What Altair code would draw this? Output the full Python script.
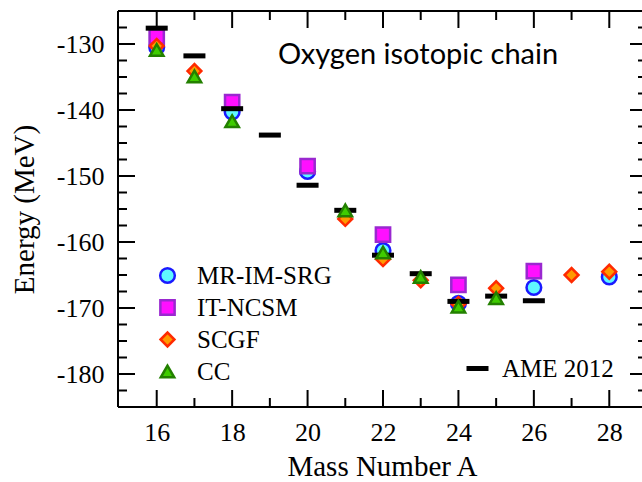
import altair as alt
import pandas as pd

# ---- data ----
methods = ["MR-IM-SRG", "IT-NCSM", "SCGF", "CC"]

mr_A = [16, 18, 20, 22, 24, 26, 28]
mr_E = [-130.5, -140.3, -149.3, -161.3, -169.3, -166.9, -165.3]

nc_A = [16, 18, 20, 22, 24, 26]
nc_E = [-128.9, -138.8, -148.5, -158.9, -166.5, -164.4]

sc_A = [16, 17, 21, 22, 23, 24, 25, 27, 28]
sc_E = [-130.3, -134.1, -156.5, -162.6, -165.8, -169.4, -167.0, -165.0, -164.5]

cc_A = [16, 17, 18, 21, 22, 23, 24, 25]
cc_E = [-130.9, -134.9, -141.7, -155.2, -161.6, -165.3, -169.8, -168.5]

ame_A = [16, 17, 18, 19, 20, 21, 22, 23, 24, 25, 26]
ame_E = [-127.6, -131.8, -139.8, -143.8, -151.4, -155.2, -162.0, -164.8, -169.0, -168.2, -168.9]

x_major = [16, 18, 20, 22, 24, 26, 28]
x_minor = [17, 19, 21, 23, 25, 27]
y_major = [-180, -170, -160, -150, -140, -130]
y_minor = [-182.5, -177.5, -175, -172.5, -167.5, -165, -162.5, -157.5, -155,
           -152.5, -147.5, -145, -142.5, -137.5, -135, -132.5, -127.5]

# ---- tables ----
pts = pd.concat([
    pd.DataFrame({"A": mr_A, "E": mr_E, "method": methods[0]}),
    pd.DataFrame({"A": nc_A, "E": nc_E, "method": methods[1]}),
    pd.DataFrame({"A": sc_A, "E": sc_E, "method": methods[2]}),
], ignore_index=True)
cc = pd.DataFrame({"A": cc_A, "E": cc_E, "method": methods[3]})
ame = pd.DataFrame({"A": ame_A, "E": ame_E, "exp": "AME 2012"})

W, H = 524, 396
XR = 529  # full frame width (right edge lies just outside the window)
SERIF = "Liberation Serif"

xs = alt.Scale(domain=[15, 29], range=[1, XR], nice=False, zero=False)
ys = alt.Scale(domain=[-185, -125], nice=False, zero=False)

leg = alt.Legend(
    title=None, orient="none", legendX=37, legendY=252,
    labelFont=SERIF, labelFontSize=25, labelColor="black",
    labelOffset=17, rowPadding=6, symbolStrokeWidth=2.5, symbolOpacity=1,
    padding=0,
)
shape_enc = alt.Shape("method:N", scale=alt.Scale(domain=methods, range=["circle", "square", "diamond", "triangle-up"]), legend=leg)
fill_enc = alt.Fill("method:N", scale=alt.Scale(domain=methods, range=["#5ff8ff", "#ff10ff", "#ff9a00", "#3fcc00"]), legend=leg)
stroke_enc = alt.Stroke("method:N", scale=alt.Scale(domain=methods, range=["#1a1aff", "#9a28d0", "#ff2a00", "#238000"]), legend=leg)
size_enc = alt.Size("method:N", scale=alt.Scale(domain=methods, range=[215, 180, 240, 340]), legend=leg)

x_axis = alt.Axis(
    values=x_major, ticks=False, tickSize=0, domain=False, grid=False,
    labelFont=SERIF, labelFontSize=26, labelColor="black", labelPadding=12,
    title="Mass Number A", titleFont=SERIF, titleFontSize=29, titleFontWeight="normal",
    titleColor="black", titleX=264, titleY=68, titleBaseline="alphabetic",
)
y_axis = alt.Axis(
    values=y_major, ticks=False, tickSize=0, domain=False, grid=False,
    labelFont=SERIF, labelFontSize=26, labelColor="black", labelPadding=14,
    labelExpr="datum.value < 0 ? '-' + abs(datum.value) : '' + datum.value",
    title="Energy (MeV)", titleFont=SERIF, titleFontSize=29, titleFontWeight="normal",
    titleColor="black", titleX=-85, titleY=198, titleBaseline="alphabetic",
)

def X(field):
    return alt.X(field, scale=xs, axis=x_axis)

def Y(field):
    return alt.Y(field, scale=ys, axis=y_axis)

points = alt.Chart(pts).mark_point(filled=True, opacity=1, strokeWidth=2.5).encode(
    x=X("A:Q"), y=Y("E:Q"),
    shape=shape_enc, fill=fill_enc, stroke=stroke_enc, size=size_enc,
)

ame_layer = alt.Chart(ame).mark_point(shape="stroke", filled=False, opacity=1, size=484, strokeWidth=5).encode(
    x=X("A:Q"), y=Y("E:Q"),
    color=alt.Color("exp:N", scale=alt.Scale(domain=["AME 2012"], range=["black"]),
                    legend=alt.Legend(title=None, orient="none", legendX=346, legendY=344,
                                      labelFont=SERIF, labelFontSize=25, labelColor="black",
                                      labelOffset=11, symbolType="stroke", symbolSize=484,
                                      symbolStrokeWidth=5, symbolOpacity=1, padding=0)),
)

cc_layer = alt.Chart(cc).mark_point(filled=True, opacity=1, strokeWidth=2.5).encode(
    x=X("A:Q"), y=Y("E:Q"),
    shape=shape_enc, fill=fill_enc, stroke=stroke_enc, size=size_enc,
)

# ---- frame and inward ticks ----
rule_style = dict(color="black", strokeWidth=2)
MAJ, MIN = 17, 9

def xticks(vals, length):
    d = pd.DataFrame({"v": vals})
    top = alt.Chart(d).mark_rule(**rule_style).encode(
        x=X("v:Q"), y=alt.value(0), y2=alt.value(length))
    bot = alt.Chart(d).mark_rule(**rule_style).encode(
        x=X("v:Q"), y=alt.value(H), y2=alt.value(H - length))
    return [top, bot]

def yticks(vals, length):
    d = pd.DataFrame({"v": vals})
    left = alt.Chart(d).mark_rule(**rule_style).encode(
        y=Y("v:Q"), x=alt.value(0), x2=alt.value(length))
    right = alt.Chart(d).mark_rule(**rule_style).encode(
        y=Y("v:Q"), x=alt.value(XR), x2=alt.value(XR - length))
    return [left, right]

frame_df = pd.DataFrame({"k": [0]})
frame = [
    alt.Chart(frame_df).mark_rule(**rule_style).encode(x=alt.value(0), x2=alt.value(XR), y=alt.value(0)),
    alt.Chart(frame_df).mark_rule(**rule_style).encode(x=alt.value(0), x2=alt.value(XR), y=alt.value(H)),
    alt.Chart(frame_df).mark_rule(**rule_style).encode(x=alt.value(0), y=alt.value(0), y2=alt.value(H)),
    alt.Chart(frame_df).mark_rule(**rule_style).encode(x=alt.value(XR), y=alt.value(0), y2=alt.value(H)),
]

layers = [points, ame_layer, cc_layer] + xticks(x_major, MAJ) + xticks(x_minor, MIN) \
    + yticks(y_major, MAJ) + yticks(y_minor, MIN) + frame

chart = alt.layer(*layers).properties(
    width=W, height=H,
    autosize=alt.AutoSizeParams(type="none"),
    padding={"left": 118, "top": 11, "right": 0, "bottom": 75},
    title=alt.TitleParams(
        "Oxygen isotopic chain", font="Lato", fontSize=29, fontWeight="normal",
        color="black", anchor="start", frame="group", offset=0, dx=160, dy=83,
        baseline="alphabetic",
    ),
).configure_view(strokeWidth=0).configure(background="white")

chart.save("out.html", embed_options={"renderer": "svg", "actions": False})
